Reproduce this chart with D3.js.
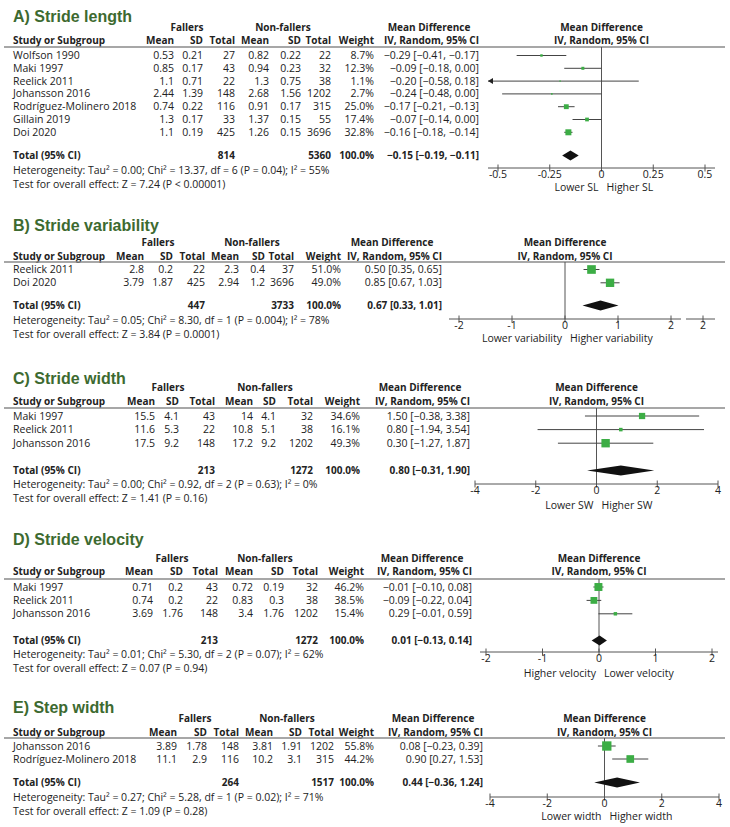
<!DOCTYPE html>
<html><head><meta charset="utf-8">
<script src="https://cdn.jsdelivr.net/npm/d3@7"></script>
<style>body{margin:0;background:#fff}</style>
</head><body><svg id="c" width="730" height="827"></svg>
<script>
// ---------- DATA ----------
const panelTitles = ["A) Stride length","B) Stride variability","C) Stride width","D) Stride velocity","E) Step width"];

const studies = [
 ["Wolfson 1990","Maki 1997","Reelick 2011","Johansson 2016","Rodríguez-Molinero 2018","Gillain 2019","Doi 2020"],
 ["Reelick 2011","Doi 2020"],
 ["Maki 1997","Reelick 2011","Johansson 2016"],
 ["Maki 1997","Reelick 2011","Johansson 2016"],
 ["Johansson 2016","Rodríguez-Molinero 2018"]
];
const fallersMean = [[0.53,0.85,1.1,2.44,0.74,1.3,1.1],[2.8,3.79],[15.5,11.6,17.5],[0.71,0.74,3.69],[3.89,11.1]];
const fallersSD   = [[0.21,0.17,0.71,1.39,0.22,0.17,0.19],[0.2,1.87],[4.1,5.3,9.2],[0.2,0.2,1.76],[1.78,2.9]];
const fallersN    = [[27,43,22,148,116,33,425],[22,425],[43,22,148],[43,22,148],[148,116]];
const nonMean     = [[0.82,0.94,1.3,2.68,0.91,1.37,1.26],[2.3,2.94],[14,10.8,17.2],[0.72,0.83,3.4],[3.81,10.2]];
const nonSD       = [[0.22,0.23,0.75,1.56,0.17,0.15,0.15],[0.4,1.2],[4.1,5.1,9.2],[0.19,0.3,1.76],[1.91,3.1]];
const nonN        = [[22,32,38,1202,315,55,3696],[37,3696],[32,38,1202],[32,38,1202],[1202,315]];
const weights     = [[8.7,12.3,1.1,2.7,25.0,17.4,32.8],[51.0,49.0],[34.6,16.1,49.3],[46.2,38.5,15.4],[55.8,44.2]];
const md          = [[-0.29,-0.09,-0.20,-0.24,-0.17,-0.07,-0.16],[0.50,0.85],[1.50,0.80,0.30],[-0.01,-0.09,0.29],[0.08,0.90]];
const ciLo        = [[-0.41,-0.18,-0.58,-0.48,-0.21,-0.14,-0.18],[0.35,0.67],[-0.38,-1.94,-1.27],[-0.10,-0.22,-0.01],[-0.23,0.27]];
const ciHi        = [[-0.17,0.00,0.18,0.00,-0.13,0.00,-0.14],[0.65,1.03],[3.38,3.54,1.87],[0.08,0.04,0.59],[0.39,1.53]];

const totalFallers = [814,447,213,213,264];
const totalNon     = [5360,3733,1272,1272,1517];
const totalMD      = [-0.15,0.67,0.80,0.01,0.44];
const totalLo      = [-0.19,0.33,-0.31,-0.13,-0.36];
const totalHi      = [-0.11,1.01,1.90,0.14,1.24];

const tau2  = [0.00,0.05,0.00,0.01,0.27];
const chi2  = [13.37,8.30,0.92,5.30,5.28];
const dfs   = [6,1,2,2,1];
const pHet  = ["0.04","0.004","0.63","0.07","0.02"];
const i2    = [55,78,0,62,71];
const zVals = [7.24,3.84,1.41,0.07,1.09];
const pZ    = ["< 0.00001","= 0.0001","= 0.16","= 0.94","= 0.28"];

const favLeft  = ["Lower SL","Lower variability","Lower SW","Higher velocity","Lower width"];
const favRight = ["Higher SL","Higher variability","Higher SW","Lower velocity","Higher width"];
const tickVals = [[-0.5,-0.25,0,0.25,0.5],[-2,-1,0,1,2],[-4,-2,0,2,4],[-2,-1,0,1,2],[-4,-2,0,2,4]];
const tickLabels = [["-0.5","-0.25","0","0.25","0.5"],["-2","-1","0","1","2"],["-4","-2","0","2","4"],["-2","-1","0","1","2"],["-4","-2","0","2","4"]];

// ---------- LAYOUT ----------
const layout = [
 {title:22, group:31, head:44, line:47, row0:59, step:12.8, total:159, het:174, test:188, cols:[174,203,235,269,301,331,374], md:479, fall:187, non:283, x0:498, x1:705, axis:168, ext:10, fav:191},
 {title:231, group:246, head:260, line:262, row0:273, step:13.3, total:309, het:324, test:338, cols:[144,173,205,239,265,294,341], md:442, fall:158, non:252, x0:459, x1:671, axis:319, ext:10, fav:341.5, extra:{from:686,to:715,tick:703,label:"2"}},
 {title:384, group:391, head:405, line:408, row0:419.5, step:13.6, total:474, het:488, test:501.5, cols:[155,179,215,253,276,313,360], md:470, fall:168, non:265, x0:475, x1:718, axis:484, ext:0, fav:509},
 {title:545, group:562, head:575, line:579, row0:590.5, step:13.4, total:644, het:658, test:672, cols:[153,183,218,253,284,318,364], md:472, fall:172, non:265, x0:486, x1:712, axis:652, ext:6, fav:677},
 {title:713, group:722, head:736, line:738, row0:749.5, step:13, total:786, het:801, test:815, cols:[177,207,239,273,302,334,374], md:483, fall:195, non:287, x0:490, x1:719, axis:797, ext:0, fav:820}
];

const FONT = "'Open Sans', 'Noto Sans', sans-serif";
const FS = 10.5, FSB = 10;
const TXT = "#222";
const svg = d3.select("#c");
const sizeScale = d3.scaleLinear().domain([0,50]).range([1.2,8.5]);
const fmt = v => (v < 0 ? "\u2212" : "") + Math.abs(v).toFixed(2);
const ciStr = (m,l,h) => `${fmt(m)} [${fmt(l)}, ${fmt(h)}]`;

function txt(g, x, y, s, opt={}) {
  return g.append("text").attr("x", x).attr("y", y).text(s)
    .attr("font-family", opt.family || FONT)
    .attr("font-size", opt.size || (opt.bold ? FSB : FS))
    .attr("font-weight", opt.bold ? "bold" : "normal")
    .attr("text-anchor", opt.anchor || "start")
    .attr("fill", opt.fill || TXT);
}

layout.forEach((L, p) => {
  const g = svg.append("g");
  txt(g, 13, L.title, panelTitles[p], {family:"'Liberation Sans', Arial, sans-serif", size:16, bold:true, fill:"#3d6a30"});
  txt(g, L.fall, L.group, "Fallers", {bold:true, anchor:"middle"});
  txt(g, L.non, L.group, "Non-fallers", {bold:true, anchor:"middle"});
  txt(g, L.md - 50, L.group, "Mean Difference", {bold:true, anchor:"middle"});
  const x = d3.scaleLinear().domain([tickVals[p][0], tickVals[p][tickVals[p].length-1]]).range([L.x0, L.x1]);
  const zx = x(0);
  txt(g, zx, L.group, "Mean Difference", {bold:true, anchor:"middle"});
  txt(g, 13, L.head, "Study or Subgroup", {bold:true});
  ["Mean","SD","Total","Mean","SD","Total","Weight"].forEach((h,i) =>
    txt(g, L.cols[i], L.head, h, {bold:true, anchor:"end"}));
  txt(g, L.md, L.head, "IV, Random, 95% CI", {bold:true, anchor:"end"});
  txt(g, zx, L.head, "IV, Random, 95% CI", {bold:true, anchor:"middle"});
  g.append("line").attr("x1", 4).attr("x2", 725).attr("y1", L.line).attr("y2", L.line)
    .attr("stroke", "#8a8a8a").attr("stroke-width", 1.5);
  g.append("line").attr("x1", zx).attr("x2", zx).attr("y1", L.line).attr("y2", L.axis)
    .attr("stroke", "#555").attr("stroke-width", 1);

  const minX = L.x0 - L.ext, maxX = L.x1 + L.ext;
  studies[p].forEach((s, i) => {
    const y = L.row0 + i * L.step;
    txt(g, 13, y, s);
    const vals = [fallersMean[p][i], fallersSD[p][i], fallersN[p][i], nonMean[p][i], nonSD[p][i], nonN[p][i]];
    vals.forEach((v, j) => txt(g, L.cols[j], y, String(v), {anchor:"end"}));
    txt(g, L.cols[6], y, weights[p][i].toFixed(1) + "%", {anchor:"end"});
    txt(g, L.md, y, ciStr(md[p][i], ciLo[p][i], ciHi[p][i]), {anchor:"end"});
    const cy = y - 3.5;
    let xl = x(ciLo[p][i]), xh = x(ciHi[p][i]);
    const clipL = xl < minX, clipR = xh > maxX;
    xl = Math.max(xl, minX); xh = Math.min(xh, maxX);
    g.append("line").attr("x1", xl).attr("x2", xh).attr("y1", cy).attr("y2", cy)
      .attr("stroke", "#444").attr("stroke-width", 1);
    if (clipL) g.append("path").attr("d", `M${xl},${cy} l5,-3 l0,6 z`).attr("fill", "#222");
    if (clipR) g.append("path").attr("d", `M${xh},${cy} l-5,-3 l0,6 z`).attr("fill", "#222");
    const sz = sizeScale(weights[p][i]);
    g.append("rect").attr("x", x(md[p][i]) - sz/2).attr("y", cy - sz/2)
      .attr("width", sz).attr("height", sz).attr("fill", "#3cad45");
  });

  txt(g, 13, L.total, "Total (95% CI)", {bold:true});
  txt(g, L.cols[2], L.total, String(totalFallers[p]), {bold:true, anchor:"end"});
  txt(g, L.cols[5], L.total, String(totalNon[p]), {bold:true, anchor:"end"});
  txt(g, L.cols[6], L.total, "100.0%", {bold:true, anchor:"end"});
  txt(g, L.md, L.total, ciStr(totalMD[p], totalLo[p], totalHi[p]), {bold:true, anchor:"end"});
  const ty = L.total - 3.5;
  g.append("path").attr("d",
    `M${x(totalLo[p])},${ty} L${x(totalMD[p])},${ty-5} L${x(totalHi[p])},${ty} L${x(totalMD[p])},${ty+5} Z`)
    .attr("fill", "#111");

  txt(g, 13, L.het, `Heterogeneity: Tau\u00B2 = ${tau2[p].toFixed(2)}; Chi\u00B2 = ${chi2[p].toFixed(2)}, df = ${dfs[p]} (P = ${pHet[p]}); I\u00B2 = ${i2[p]}%`);
  txt(g, 13, L.test, `Test for overall effect: Z = ${zVals[p].toFixed(2)} (P ${pZ[p]})`);

  g.append("line").attr("x1", minX).attr("x2", maxX).attr("y1", L.axis).attr("y2", L.axis)
    .attr("stroke", "#555").attr("stroke-width", 1);
  tickVals[p].forEach((t, k) => {
    g.append("line").attr("x1", x(t)).attr("x2", x(t)).attr("y1", L.axis - 3.5).attr("y2", L.axis + 3.5)
      .attr("stroke", "#555").attr("stroke-width", 1);
    txt(g, x(t), L.axis + 9.5, tickLabels[p][k], {anchor:"middle"});
  });
  if (L.extra) {
    g.append("line").attr("x1", L.extra.from).attr("x2", L.extra.to).attr("y1", L.axis).attr("y2", L.axis)
      .attr("stroke", "#555").attr("stroke-width", 1);
    g.append("line").attr("x1", L.extra.tick).attr("x2", L.extra.tick).attr("y1", L.axis - 3.5).attr("y2", L.axis + 3.5)
      .attr("stroke", "#555").attr("stroke-width", 1);
    txt(g, L.extra.tick, L.axis + 9.5, L.extra.label, {anchor:"middle"});
  }
  txt(g, zx - 3, L.fav, favLeft[p], {anchor:"end"});
  txt(g, zx + 5, L.fav, favRight[p]);
});
</script></body></html>
